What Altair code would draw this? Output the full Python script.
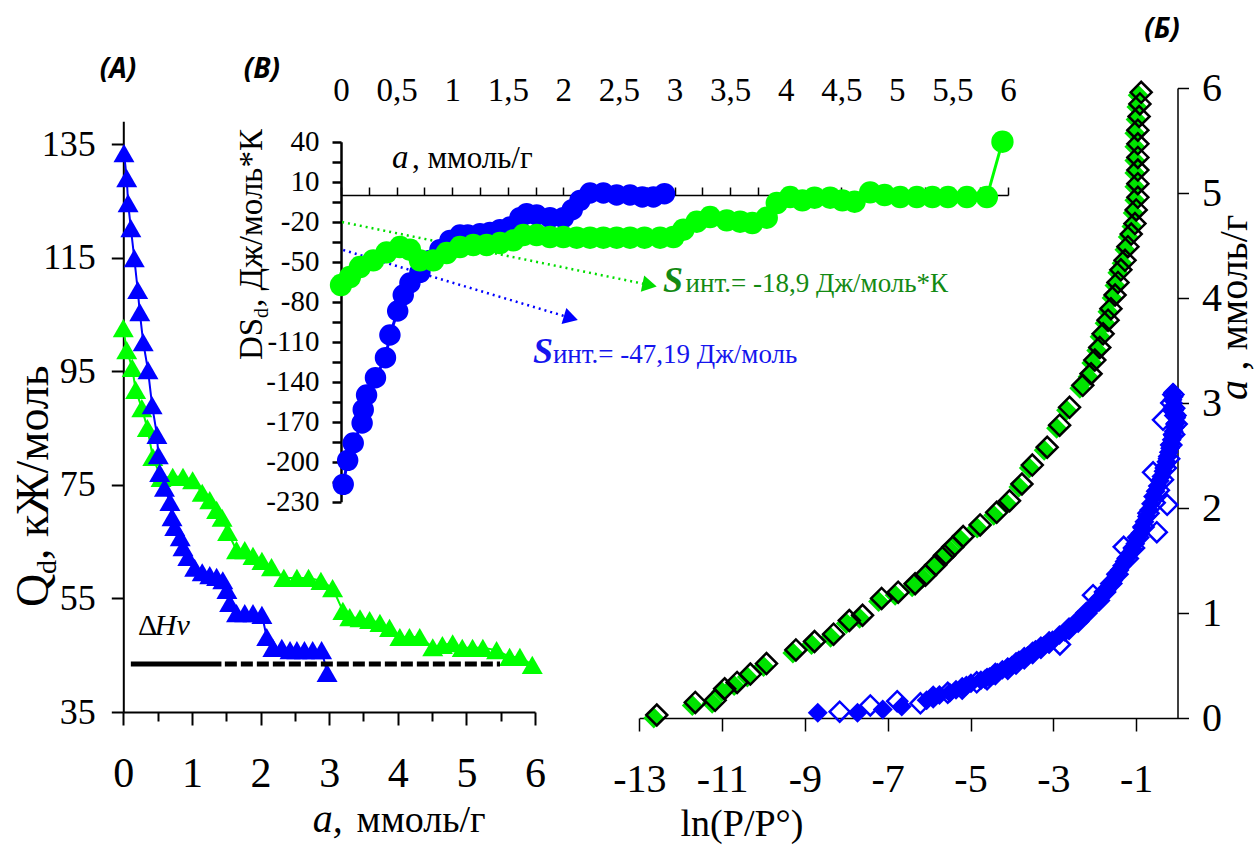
import altair as alt
import pandas as pd

SERIF = "Liberation Serif"
SANS = "Open Sans"
BLUE = "#0000ff"
GREEN = "#00ff00"
GREEN_DIAMOND = "#00e400"
TEXT_GREEN = "#138a13"
TEXT_BLUE = "#1515ee"

# ---------------- (A) differential heats Qd (kJ/mol) vs a (mmol/g)
qa_blue_a = [0.01, 0.05, 0.07, 0.11, 0.16, 0.21, 0.24, 0.29, 0.36, 0.42, 0.49, 0.51,
             0.53, 0.60, 0.68, 0.71, 0.75, 0.83, 0.87, 0.94, 1.04, 1.15, 1.26, 1.36,
             1.45, 1.51, 1.55, 1.65, 1.77, 1.89, 2.02, 2.09, 2.18, 2.31, 2.43, 2.53,
             2.64, 2.76, 2.89, 2.97]
qa_blue_q = [133.4, 129.0, 124.6, 120.2, 114.9, 109.3, 105.4, 100.1, 95.2, 89.0, 83.8, 80.2,
             77.1, 74.5, 72.0, 69.3, 67.6, 65.8, 64.0, 62.3, 60.4, 59.6, 59.1, 58.8,
             58.2, 56.5, 54.2, 52.4, 52.4, 52.4, 52.1, 48.2, 46.3, 46.3, 45.9, 45.9,
             45.9, 45.9, 45.9, 41.9]
qa_green_a = [0.00, 0.05, 0.13, 0.18, 0.27, 0.35, 0.43, 0.55, 0.72, 0.87, 1.01, 1.15,
              1.26, 1.36, 1.44, 1.52, 1.65, 1.77, 1.89, 2.02, 2.16, 2.34, 2.53, 2.70,
              2.88, 3.05, 3.20, 3.30, 3.45, 3.59, 3.74, 3.88, 4.03, 4.17, 4.32, 4.51,
              4.65, 4.80, 4.94, 5.09, 5.24, 5.44, 5.63, 5.78, 5.96]
qa_green_q = [102.6, 98.7, 95.6, 91.7, 88.5, 85.0, 79.9, 76.2, 76.4, 76.4, 75.8, 73.6,
              72.3, 70.6, 69.2, 66.7, 63.5, 63.5, 62.5, 61.6, 60.5, 58.6, 58.6, 58.6,
              58.1, 56.8, 52.8, 51.7, 51.5, 51.2, 50.7, 49.8, 48.2, 48.2, 48.2, 46.4,
              46.8, 47.1, 46.3, 46.3, 46.3, 45.9, 44.7, 44.7, 43.3]
# heat of vaporisation level (solid part, then dashed part)
dhv_q = 43.45
dhv_solid_a = [0.11, 1.43]
dhv_dash_a = [1.48, 5.49]

# ---------------- (B) differential entropy dSd vs a
ds_blue_a = [0.02, 0.06, 0.11, 0.19, 0.20, 0.23, 0.31, 0.40, 0.44, 0.51, 0.56, 0.62,
             0.71, 0.80, 0.89, 0.98, 1.07, 1.14, 1.25, 1.34, 1.43, 1.52, 1.61, 1.67,
             1.76, 1.88, 2.00, 2.08, 2.15, 2.24, 2.36, 2.48, 2.60, 2.71, 2.81, 2.91]
ds_blue_s = [-217, -199, -186, -171, -161, -150, -137, -122, -105, -87, -75, -66,
             -58, -49, -41, -34, -30, -30, -29, -28, -26, -24, -17, -14,
             -15, -17, -17, -11, -4, 1.5, 1.5, 0, 0, -1.5, -1.5, 1]
ds_green_a = [0.00, 0.08, 0.17, 0.29, 0.41, 0.53, 0.62, 0.71, 0.83, 0.95, 1.07, 1.19,
              1.31, 1.43, 1.55, 1.64, 1.76, 1.88, 2.00, 2.12, 2.24, 2.36, 2.48, 2.60,
              2.73, 2.87, 2.99, 3.08, 3.20, 3.32, 3.47, 3.59, 3.70, 3.83, 3.92, 4.04,
              4.15, 4.26, 4.40, 4.51, 4.62, 4.76, 4.89, 5.03, 5.18, 5.32, 5.46, 5.63,
              5.81, 5.95]
ds_green_s = [-67.5, -61.5, -54, -49, -43, -39, -41, -49, -49, -43.5, -39, -37.5,
              -37.5, -36, -34, -30, -30, -31.5, -31.5, -32, -32, -32, -32, -32,
              -32, -32, -31.5, -26, -20, -16.5, -19, -20, -21, -17, -6, -1.5,
              -4, -2, -2, -4, -5, 2, 0, -1.5, -1.5, -1.5, -1.5, -1.5,
              -1.5, 40]
# dotted pointers towards the integral entropy labels
ptr_green_a, ptr_green_s = [0.01, 2.776], [-20.25, -67.5]
ptr_blue_a, ptr_blue_s = [0.02, 2.068], [-41.25, -92.25]

# ---------------- (Б) isotherms a vs ln(P/P°)
iso_green_ln = [-12.65, -11.72, -11.24, -11.01, -10.71, -10.39, -10.00, -9.29, -8.84, -8.38,
                -8.00, -7.68, -7.22, -6.82, -6.41, -6.16, -5.91, -5.70, -5.50, -5.25,
                -4.84, -4.44, -4.13, -3.83, -3.58, -3.22, -2.92, -2.68, -2.36, -2.16,
                -2.07, -1.95, -1.87, -1.75, -1.68, -1.58, -1.51, -1.44, -1.34, -1.27,
                -1.19, -1.10, -1.07, -1.03, -1.03, -1.03, -1.03, -1.03, -1.03, -1.00,
                -0.98, -0.95]
iso_green_a = [0.00, 0.12, 0.14, 0.25, 0.31, 0.39, 0.49, 0.62, 0.70, 0.77,
               0.90, 0.95, 1.11, 1.17, 1.25, 1.33, 1.43, 1.52, 1.60, 1.70,
               1.81, 1.93, 2.04, 2.20, 2.38, 2.55, 2.76, 2.93, 3.14, 3.25,
               3.38, 3.50, 3.63, 3.76, 3.87, 4.00, 4.12, 4.24, 4.33, 4.46,
               4.58, 4.68, 4.81, 4.93, 5.06, 5.19, 5.31, 5.44, 5.57, 5.70,
               5.82, 5.93]
iso_blue_ln = [-8.69, -7.73, -7.12, -6.66, -6.06, -5.90, -5.75, -5.50, -5.35, -5.20,
               -5.10, -4.99, -4.75, -4.65, -4.54, -4.45, -4.35, -4.23, -4.10, -4.00,
               -3.83, -3.72, -3.62, -3.52, -3.43, -3.32, -3.22, -3.12, -3.02, -2.85,
               -2.72, -2.62, -2.50, -2.40, -2.31, -2.23, -2.15, -2.01, -1.93, -1.85,
               -1.78, -1.71, -1.63, -1.55, -1.47, -1.40, -1.34, -1.28, -1.21, -1.15,
               -1.08, -1.02, -0.96, -0.90, -0.85, -0.80, -0.74, -0.69, -0.64, -0.59,
               -0.53, -0.48, -0.43, -0.39, -0.34, -0.30, -0.27, -0.24, -0.21, -0.18,
               -0.16, -0.14, -0.11, -0.09, -0.06, -0.04, -0.03, -0.06, -0.08, -0.10,
               -0.09, -0.12, -0.11]
iso_blue_a = [0.05, 0.05, 0.08, 0.11, 0.17, 0.20, 0.22, 0.24, 0.27, 0.29,
              0.31, 0.33, 0.36, 0.37, 0.39, 0.41, 0.43, 0.46, 0.48, 0.50,
              0.55, 0.57, 0.59, 0.62, 0.65, 0.67, 0.69, 0.71, 0.74, 0.79,
              0.82, 0.85, 0.89, 0.92, 0.96, 0.99, 1.02, 1.08, 1.11, 1.15,
              1.18, 1.22, 1.26, 1.31, 1.36, 1.41, 1.45, 1.49, 1.53, 1.57,
              1.61, 1.66, 1.71, 1.76, 1.81, 1.87, 1.92, 1.98, 2.04, 2.11,
              2.16, 2.21, 2.26, 2.30, 2.35, 2.40, 2.44, 2.49, 2.53, 2.57,
              2.61, 2.65, 2.69, 2.73, 2.77, 2.81, 2.86, 2.90, 2.93, 2.97,
              3.06, 3.03, 3.10]
iso_blue_open_ln = [-8.16, -7.42, -6.77, -6.21, -5.90, -5.55, -5.20, -4.85, -4.60, -4.40,
                    -4.10, -3.90, -3.70, -3.50, -3.30, -3.10, -2.84, -2.62, -2.40, -2.20,
                    -2.04, -1.90, -1.75, -1.60, -1.45, -1.30, -1.20, -1.05, -0.95, -0.82,
                    -0.70, -0.50, -0.55, -0.25, -0.45, -0.59, -0.35, -0.28, -0.20, -0.35,
                    -0.15, -0.08, -0.02, -0.05, -0.08, -0.15, -0.10]
iso_blue_open_a = [0.06, 0.12, 0.16, 0.14, 0.20, 0.24, 0.28, 0.34, 0.37, 0.42,
                   0.47, 0.52, 0.57, 0.62, 0.67, 0.72, 0.70, 0.85, 0.92, 1.00,
                   1.17, 1.12, 1.20, 1.28, 1.37, 1.63, 1.52, 1.62, 1.72, 1.82,
                   1.95, 1.77, 2.05, 2.03, 2.17, 2.34, 2.27, 2.38, 2.47, 2.84,
                   2.60, 2.70, 2.80, 2.88, 2.95, 3.00, 3.08]

# ---------------- tick values
q_ticks = [35, 55, 75, 95, 115, 135]
a_major = [0, 1, 2, 3, 4, 5, 6]
a_minor = [0.5, 1.5, 2.5, 3.5, 4.5, 5.5]
ds_ticks = list(range(-230, 41, 15))
ab_ticks = [i * 0.25 for i in range(25)]
ln_ticks = [-13, -11, -9, -7, -5, -3, -1]
ar_ticks = [0, 1, 2, 3, 4, 5, 6]

W, H = 1256, 845


def lin(domain, rng):
    return alt.Scale(domain=domain, range=rng, nice=False, zero=False)


# panel scales (pixel ranges inside the shared canvas)
A_X, A_Y = lin([0, 6], [123.3, 535]), lin([35, 139], [712, 121.3])
B_X, B_Y = lin([0, 6], [341, 1008]), lin([-230, 40], [501.7, 141.7])
C_X, C_Y = lin([-13, 0], [639.3, 1177.5]), lin([0, 6], [718, 88])


def axis(**kw):
    base = dict(grid=False, title=None, labelFont=SERIF, labelColor="black",
                domainColor="black", tickColor="black", labelFlush=False,
                labelOverlap=False, labelBound=False,
                labelExpr="toString(datum.value)")
    base.update(kw)
    return alt.Axis(**base)


def enc(xs, ys, xaxis=None, yaxis=None):
    return dict(x=alt.X("x:Q", scale=xs, axis=xaxis),
                y=alt.Y("y:Q", scale=ys, axis=yaxis),
                order=alt.Order("i:Q"))


def frame(x, y):
    return pd.DataFrame({"x": x, "y": y, "i": list(range(len(x)))})


def label(xs, ys, x, y, text, **mk):
    df = pd.DataFrame({"x": [x], "y": [y], "t": [text]})
    style = dict(font=SERIF, align="left", baseline="alphabetic", color="black")
    style.update(mk)
    return alt.Chart(df).mark_text(**style).encode(
        x=alt.X("x:Q", scale=xs, axis=None), y=alt.Y("y:Q", scale=ys, axis=None),
        text="t:N")


layers = []

# ---------- panel A
a_blue = frame(qa_blue_a, qa_blue_q)
a_green = frame(qa_green_a, qa_green_q)
layers.append(alt.Chart(a_blue).mark_line(color=BLUE, strokeWidth=2).encode(
    **enc(A_X, A_Y,
          axis(orient="bottom", offset=712 - H, values=a_major, tickSize=13, tickWidth=2,
               domainWidth=2, labelFontSize=42, labelPadding=28),
          axis(orient="left", offset=-123.3, values=q_ticks, tickSize=12, tickWidth=2,
               domainWidth=2, labelFontSize=36, labelPadding=16))))
layers.append(alt.Chart(a_green).mark_line(color=GREEN, strokeWidth=2).encode(
    **enc(A_X, A_Y,
          axis(orient="bottom", offset=712 - H, values=a_minor, tickSize=9, tickWidth=2,
               domain=False, labels=False))))
layers.append(alt.Chart(a_green).mark_point(shape="triangle-up", filled=True, color=GREEN,
                                            size=440, opacity=1).encode(**enc(A_X, A_Y)))
layers.append(alt.Chart(a_blue).mark_point(shape="triangle-up", filled=True, color=BLUE,
                                           size=440, opacity=1).encode(**enc(A_X, A_Y)))
layers.append(alt.Chart(frame(dhv_solid_a, [dhv_q, dhv_q])).mark_line(
    color="black", strokeWidth=5).encode(**enc(A_X, A_Y)))
layers.append(alt.Chart(frame(dhv_dash_a, [dhv_q, dhv_q])).mark_line(
    color="black", strokeWidth=5, strokeDash=[12, 4]).encode(**enc(A_X, A_Y)))
layers.append(label(A_X, A_Y, 0.214, 48.6, "Δ", fontSize=30))
layers.append(label(A_X, A_Y, 0.46, 48.6, "Hv", fontSize=30, fontStyle="italic"))
# axis titles of A
layers.append(label(A_X, A_Y, 2.76, 13.87, "a,", fontSize=40, fontStyle="italic"))
layers.append(label(A_X, A_Y, 3.40, 13.87, "ммоль/г", fontSize=38))
layers.append(label(A_X, A_Y, -1.096, 53.5, "Q", fontSize=46, angle=270))
layers.append(label(A_X, A_Y, -0.975, 59.3, "d", fontSize=28, angle=270))
layers.append(label(A_X, A_Y, -1.096, 61.76, ", кЖ/моль", fontSize=46, angle=270))
# panel letters
letter = dict(font=SANS, fontSize=28, fontWeight="bold", fontStyle="italic",
              align="center", baseline="middle")
layers.append(label(A_X, A_Y, -0.077, 148.0, "(A)", **letter))
layers.append(label(A_X, A_Y, 2.02, 148.0, "(B)", **letter))
layers.append(label(C_X, C_Y, -0.374, 6.552, "(Б)", **letter))

# ---------- panel B (inset)
b_lbl_top = "(datum.value * 2) % 1 == 0 ? replace(toString(datum.value), '.', ',') : ''"
b_lbl_left = "(datum.value - 40) % 30 == 0 ? toString(datum.value) : ''"
b_green = frame(ds_green_a, ds_green_s)
b_blue = frame(ds_blue_a, ds_blue_s)
layers.append(alt.Chart(frame(ptr_green_a, ptr_green_s)).mark_line(
    color="#00dd00", strokeWidth=2.5, strokeDash=[2, 4]).encode(**enc(B_X, B_Y)))
layers.append(alt.Chart(frame(ptr_blue_a, ptr_blue_s)).mark_line(
    color=BLUE, strokeWidth=2.5, strokeDash=[2, 4]).encode(**enc(B_X, B_Y)))
layers.append(alt.Chart(frame(ptr_green_a[1:], ptr_green_s[1:])).mark_point(
    shape="triangle-right", filled=True, color="#00dd00", size=280, angle=11.6,
    opacity=1).encode(**enc(B_X, B_Y)))
layers.append(alt.Chart(frame(ptr_blue_a[1:], ptr_blue_s[1:])).mark_point(
    shape="triangle-right", filled=True, color=BLUE, size=280, angle=16.6,
    opacity=1).encode(**enc(B_X, B_Y)))
layers.append(alt.Chart(b_blue).mark_line(color=BLUE, strokeWidth=3).encode(
    **enc(B_X, B_Y,
          axis(orient="top", offset=-195, values=ab_ticks, tickSize=8, tickWidth=1.5,
               domainWidth=1.5, labelFontSize=33, labelPadding=80, labelExpr=b_lbl_top),
          axis(orient="left", offset=-341, values=ds_ticks, tickSize=9, tickWidth=2.5,
               domainWidth=2.5, labelFontSize=29, labelPadding=13, labelExpr=b_lbl_left))))
layers.append(alt.Chart(b_blue).mark_circle(color=BLUE, size=460, opacity=1).encode(
    **enc(B_X, B_Y)))
layers.append(alt.Chart(b_green).mark_line(color=GREEN, strokeWidth=3).encode(
    **enc(B_X, B_Y)))
layers.append(alt.Chart(b_green).mark_circle(color=GREEN, size=500, opacity=1).encode(
    **enc(B_X, B_Y)))
layers.append(label(B_X, B_Y, 0.459, 20.25, "a", fontSize=33, fontStyle="italic"))
layers.append(label(B_X, B_Y, 0.638, 20.25, ", ммоль/г", fontSize=31))
layers.append(label(B_X, B_Y, -0.71, -123.75, "DS", fontSize=33, angle=270))
layers.append(label(B_X, B_Y, -0.656, -92.25, "d", fontSize=20, angle=270))
layers.append(label(B_X, B_Y, -0.71, -84.0, ", Дж/моль*К", fontSize=33, angle=270))
layers.append(label(B_X, B_Y, 2.896, -72.75, "S", fontSize=36, fontWeight="bold",
                    fontStyle="italic", color=TEXT_GREEN))
layers.append(label(B_X, B_Y, 3.10, -72.75, "инт.= -18,9 Дж/моль*К", fontSize=27,
                    color=TEXT_GREEN))
layers.append(label(B_X, B_Y, 1.727, -126.0, "S", fontSize=36, fontWeight="bold",
                    fontStyle="italic", color=TEXT_BLUE))
layers.append(label(B_X, B_Y, 1.906, -126.0, "инт.= -47,19 Дж/моль", fontSize=27,
                    color=TEXT_BLUE))

# ---------- panel Б (isotherms)
c_green = frame(iso_green_ln, iso_green_a)
layers.append(alt.Chart(c_green).mark_point(shape="diamond", filled=True, color=GREEN_DIAMOND,
                                            size=440, opacity=1).encode(
    **enc(C_X, C_Y,
          axis(orient="bottom", offset=718 - H, values=ln_ticks, tickSize=13, tickWidth=1.5,
               domainWidth=1.5, labelFontSize=40, labelPadding=28),
          axis(orient="right", offset=1177.5 - W, values=ar_ticks, tickSize=11,
               tickWidth=1.5, domainWidth=1.5, labelFontSize=40, labelPadding=13))))
layers.append(alt.Chart(c_green).mark_point(shape="diamond", filled=False, color="black",
                                            strokeWidth=2.5, size=440, opacity=1,
                                            xOffset=3, yOffset=-3).encode(**enc(C_X, C_Y)))
layers.append(alt.Chart(frame(iso_blue_ln, iso_blue_a)).mark_point(
    shape="diamond", filled=True, color=BLUE, size=400, opacity=1).encode(**enc(C_X, C_Y)))
layers.append(alt.Chart(frame(iso_blue_open_ln, iso_blue_open_a)).mark_point(
    shape="diamond", filled=False, color=BLUE, strokeWidth=2.5, size=400,
    opacity=1).encode(**enc(C_X, C_Y)))
layers.append(label(C_X, C_Y, -10.52, -1.124, "ln(P/P°)", fontSize=38, align="center"))
layers.append(label(C_X, C_Y, 1.68, 3.029, "a", fontSize=40, fontStyle="italic", angle=270))
layers.append(label(C_X, C_Y, 1.68, 3.31, ", ммоль/г", fontSize=40, angle=270))

chart = (
    alt.layer(*layers)
    .resolve_scale(x="independent", y="independent")
    .resolve_axis(x="independent", y="independent")
    .properties(width=W, height=H, padding=0, background="white",
                autosize=alt.AutoSizeParams(type="none"))
    .configure_view(strokeWidth=0)
)

chart.save("out.html", embed_options={"renderer": "svg", "actions": False})
